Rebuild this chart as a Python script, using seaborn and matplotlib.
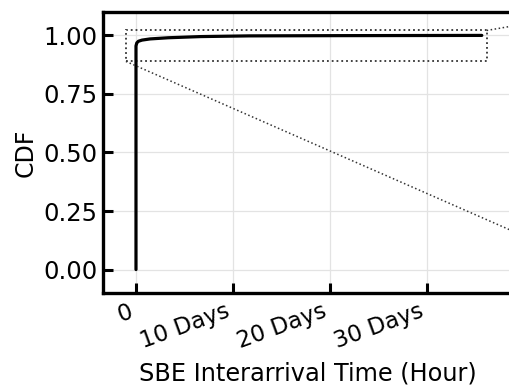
import matplotlib
matplotlib.use("Agg")
import matplotlib.pyplot as plt
import seaborn as sns
import pandas as pd

# CDF of SBE interarrival time (hours)
hours = [0, 0, 2, 6, 15, 35, 80, 160, 280, 500, 856]
cdf = [0.0, 0.955, 0.968, 0.975, 0.980, 0.985, 0.990, 0.995, 0.998, 0.999, 1.0]

xtick_vals = [0, 240, 480, 720]
xtick_labels = ["0", "10 Days", "20 Days", "30 Days"]
ytick_vals = [0.0, 0.25, 0.5, 0.75, 1.0]

# zoom region marker (hours, cdf)
zoom_x = [-25, 868]
zoom_y = [0.889, 1.021]

sns.set_style("whitegrid")
plt.rcParams["font.family"] = ["DejaVu Sans"]
plt.rcParams["text.color"] = "black"
plt.rcParams["axes.labelcolor"] = "black"
plt.rcParams["xtick.color"] = "black"
plt.rcParams["ytick.color"] = "black"

fig = plt.figure(figsize=(5.10, 3.87), dpi=100)
ax = fig.add_axes([0.202, 0.243, 0.936, 0.726])

df = pd.DataFrame({"hours": hours, "cdf": cdf})
sns.lineplot(data=df, x="hours", y="cdf", estimator=None, sort=False,
             color="black", linewidth=2.3, ax=ax)

ax.set_xlim(-81.6, 1100)
ax.set_ylim(-0.1, 1.1)

ax.set_xticks(xtick_vals)
ax.set_xticklabels(xtick_labels, rotation=20, ha="right")
ax.set_yticks(ytick_vals)
ax.set_yticklabels(["0.00", "0.25", "0.50", "0.75", "1.00"])

ax.tick_params(axis="both", which="major", direction="in", length=7, width=2.2,
               color="black", labelcolor="black", pad=3,
               bottom=True, left=True, top=False, right=False)
ax.tick_params(axis="y", labelsize=17.5, pad=4)
ax.tick_params(axis="x", labelsize=16.5, pad=5)

for s in ax.spines.values():
    s.set_color("black")
    s.set_linewidth(2.4)

ax.grid(True, color="#e3e3e3", linewidth=0.9)

ax.set_xlabel("SBE Interarrival Time (Hour)", fontsize=17.3, color="black")
ax.xaxis.set_label_coords(0.429, -0.245)
ax.set_ylabel("CDF", fontsize=17, color="black")

# zoom indicator rectangle
rect = plt.Rectangle((zoom_x[0], zoom_y[0]), zoom_x[1] - zoom_x[0], zoom_y[1] - zoom_y[0],
                     fill=False, linestyle=":", linewidth=1.3, edgecolor="#333333")
ax.add_patch(rect)
# connector lines toward (off-figure) inset
ax.plot([zoom_x[0], 1100], [zoom_y[0], zoom_y[0] - 0.000757 * (1100 - zoom_x[0])],
        linestyle=":", linewidth=1.1, color="#333333")
ax.plot([zoom_x[1], 1100], [zoom_y[1], zoom_y[1] + 0.000299 * (1100 - zoom_x[1])],
        linestyle=":", linewidth=1.1, color="#333333", clip_on=False)

fig.savefig("out.png", dpi=100)
